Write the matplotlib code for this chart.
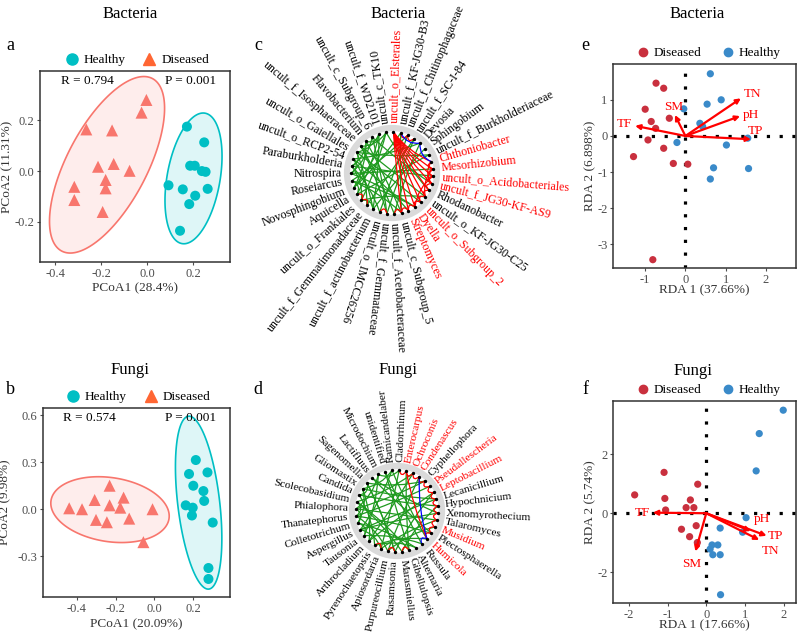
import numpy as np
import matplotlib
matplotlib.use('Agg')
import matplotlib.pyplot as plt
from matplotlib.patches import Polygon, Circle, PathPatch
from matplotlib.path import Path
from matplotlib.lines import Line2D

plt.rcParams['font.family'] = ['Liberation Serif', 'DejaVu Serif']
plt.rcParams['axes.unicode_minus'] = False

W, H = 798, 634

# ---- panel a: bacteria PCoA ----
a_dis_x = [-0.004, -0.025, -0.265, -0.153, -0.214, -0.146, -0.077, -0.181, -0.181, -0.317, -0.317, -0.194]
a_dis_y = [0.280, 0.230, 0.164, 0.160, 0.017, 0.028, 0.001, -0.035, -0.068, -0.062, -0.114, -0.161]
a_hea_x = [0.172, 0.247, 0.186, 0.206, 0.237, 0.253, 0.092, 0.154, 0.262, 0.208, 0.182, 0.142]
a_hea_y = [0.175, 0.113, 0.021, 0.021, 0.000, -0.003, -0.056, -0.072, -0.070, -0.097, -0.130, -0.235]

# ---- panel b: fungi PCoA ----
b_dis_x = [-0.231, -0.308, -0.159, -0.231, -0.176, -0.439, -0.373, -0.010, -0.301, -0.130, -0.245, -0.057]
b_dis_y = [0.150, 0.059, 0.074, 0.025, 0.010, 0.006, 0.000, 0.000, -0.068, -0.060, -0.083, -0.210]
b_hea_x = [0.213, 0.178, 0.273, 0.200, 0.252, 0.256, 0.161, 0.197, 0.193, 0.300, 0.278, 0.278]
b_hea_y = [0.314, 0.225, 0.235, 0.150, 0.116, 0.053, 0.025, 0.010, -0.040, -0.085, -0.375, -0.445]

# ---- panel e: bacteria RDA ----
e_dis_x = [-0.73, -0.54, -1.00, -0.85, -0.40, -0.74, -0.93, -0.54, -1.29, -0.30, 0.06, -0.81]
e_dis_y = [1.46, 1.32, 0.74, 0.40, 0.49, 0.21, -0.11, -0.34, -0.57, -0.76, -0.78, -3.42]
e_hea_x = [0.62, 0.89, 0.54, -0.04, 0.36, 0.43, -0.21, 1.02, 1.55, 0.70, 1.57, 0.62]
e_hea_y = [1.72, 1.00, 0.88, 0.75, 0.35, 0.26, -0.18, -0.25, -0.06, -0.88, -0.90, -1.19]
e_env = ['TN', 'pH', 'TP', 'TF', 'SM']
e_env_x = [1.38, 1.36, 1.63, -1.25, -0.26]
e_env_y = [1.04, 0.55, -0.09, 0.28, 0.58]

# ---- panel f: fungi RDA ----
f_dis_x = [-1.85, -1.09, -0.22, -1.07, -0.41, -0.52, -0.32, -1.05, -0.26, -0.64, -0.43, -0.23]
f_dis_y = [0.62, 1.38, 0.98, 0.50, 0.45, 0.19, 0.19, 0.11, -0.42, -0.54, -0.79, -0.99]
f_hea_x = [1.99, 1.37, 1.29, 1.03, 0.36, 0.94, 0.15, 0.30, 0.10, 0.17, 0.36, 0.37]
f_hea_y = [3.48, 2.69, 1.43, -0.15, -0.50, -0.64, -1.07, -1.07, -1.21, -1.40, -1.40, -2.75]
f_env = ['TF', 'SM', 'pH', 'TP', 'TN']
f_env_x = [-1.38, -0.28, 1.15, 1.56, 1.37]
f_env_y = [0.02, -1.29, -0.60, -0.76, -0.90]

# ---- panel c: bacteria network (clockwise from top) ----
bac_labels = ['uncult_o_Elsterales', 'uncult_f_KF-JG30-B3', 'uncult_f_Chitinophagaceae', 'uncult_f_SC-I-84',
              'Devosia', 'Sphingobium', 'uncult_f_Burkholderiaceae', 'Chthoniobacter', 'Mesorhizobium',
              'uncult_o_Acidobacteriales', 'uncult_f_JG30-KF-AS9', 'Rhodanobacter', 'uncult_o_KF-JG30-C25',
              'uncult_o_Subgroup_2', 'Dyella', 'Streptomyces', 'uncult_c_Subgroup_5', 'uncult_f_Acetobacteraceae',
              'uncult_f_Gemmataceae', 'uncult_o_IMCC26256', 'uncult_f_actinobacterium', 'uncult_f_Gemmatimonadaceae',
              'uncult_o_Frankiales', 'Aquicella', 'Novosphingobium', 'Roseiarcus', 'Nitrospira', 'Paraburkholderia',
              'uncult_o_RCP2-54', 'uncult_o_Gaiellales', 'uncult_f_Isosphaeraceae', 'Flavobacterium',
              'uncult_c_Subgroup_6', 'uncult_f_WD2101', 'uncult_c_TK10']
bac_red = [0, 7, 8, 9, 10, 13, 14, 15]
bac_green = [(34, 22), (33, 20), (32, 18), (31, 16), (30, 12), (29, 6), (28, 4), (27, 9), (26, 14), (25, 2),
             (24, 31), (23, 33), (21, 29), (19, 27), (17, 30), (16, 25), (15, 28), (5, 20), (3, 21), (1, 24),
             (2, 19), (4, 17), (6, 23), (8, 26), (10, 32), (11, 34), (12, 22), (13, 29), (14, 25), (18, 30),
             (20, 28), (22, 27), (24, 34), (26, 32), (29, 33), (30, 34), (31, 27), (1, 16), (3, 18), (26, 28),
             (27, 29), (23, 25), (33, 31), (20, 22)]
bac_redges = [(0, 7), (0, 8), (0, 9), (0, 10), (0, 11), (0, 12), (0, 13), (0, 14), (0, 15), (0, 16),
              (7, 8), (8, 9), (9, 10), (10, 11), (11, 12), (12, 13), (13, 14), (14, 15), (15, 16), (16, 17),
              (7, 10), (8, 12), (9, 14), (18, 19), (21, 22), (22, 23), (1, 2), (2, 3)]
bac_blue = [(1, 4), (4, 7)]

# ---- panel d: fungi network (clockwise from top) ----
fun_labels = ['Cladorrhinum', 'Enterocarpus', 'Ochroconis', 'Condenascus', 'Cyphellophora', 'Pseudallescheria',
              'Leptobacillium', 'Lecanicillium', 'Hypochnicium', 'Xenomyrothecium', 'Talaromyces', 'Musidium',
              'Plectosphaerella', 'Humicola', 'Russula', 'Alternaria', 'Gibellulopsis', 'Marasmiellus',
              'Rasamsonia', 'Purpureocillium', 'Apiosordaria', 'Pyrenochaetopsis', 'Arthrocladium', 'Tausonia',
              'Aspergillus', 'Colletotrichum', 'Thanatephorus', 'Phialophora', 'Scolecobasidium', 'Candida',
              'Gliomastix', 'Sagenomella', 'Lactifluus', 'Microdochium', 'unidentified', 'Ramicandelaber']
fun_red = [1, 2, 3, 5, 6, 11, 13]
fun_green = [(0, 20), (35, 24), (34, 14), (33, 27), (32, 9), (31, 18), (30, 22), (29, 8), (28, 16), (27, 4),
             (26, 12), (25, 30), (24, 7), (23, 33), (22, 2), (21, 29), (20, 10), (19, 26), (18, 31), (17, 28),
             (16, 34), (15, 25), (14, 23), (13, 21), (12, 32), (11, 19), (10, 27), (9, 24), (8, 17), (7, 30),
             (6, 22), (5, 26), (4, 31), (3, 19), (2, 28), (1, 16), (0, 33), (35, 13), (25, 27), (26, 28),
             (23, 25), (29, 31), (20, 24), (30, 35), (15, 21), (6, 18)]
fun_redges = [(1, 2), (2, 3), (3, 4), (4, 5), (5, 6), (6, 7), (7, 8), (8, 9), (9, 10), (10, 11), (11, 12),
              (12, 13), (1, 13), (0, 1), (16, 17), (18, 19), (20, 21)]
fun_blue = [(3, 13), (13, 14)]

C_HEA = '#00BFC4'
C_DIS = '#F8766D'
C_DIS_LEG = '#FF6633'
R_DIS = '#C9303E'
R_HEA = '#3A8AC9'
GRAY = '#4D4D4D'


def px_axes(fig, x0, y0, x1, y1):
    return fig.add_axes([x0 / W, 1 - y1 / H, (x1 - x0) / W, (y1 - y0) / H])


def cov_trob(X, nu=5, maxit=25, tol=0.01):
    # multivariate t estimate of location and scatter (as MASS::cov.trob)
    n, p = X.shape
    loc = X.mean(axis=0)
    w = np.ones(n)
    for _ in range(maxit):
        w0 = w
        Xc = X - loc
        _, d, vt = np.linalg.svd(np.sqrt(w / w.sum())[:, None] * Xc, full_matrices=False)
        wX = Xc @ vt.T / d
        Q = (wX ** 2).sum(axis=1)
        w = (nu + p) / (nu + Q)
        loc = (w[:, None] * X).sum(axis=0) / w.sum()
        if np.all(np.abs(w - w0) < tol):
            break
    Xc = X - loc
    cov = (np.sqrt(w)[:, None] * Xc).T @ (np.sqrt(w)[:, None] * Xc) / n
    return loc, cov


def conf_ellipse(ax, x, y, color):
    X = np.c_[x, y]
    loc, cov = cov_trob(X)
    d2 = len(x) - 1
    fq = d2 / 2.0 * (0.05 ** (-2.0 / d2) - 1)  # F(2, n-1) quantile at 0.95
    r = np.sqrt(2 * fq)
    t = np.linspace(0, 2 * np.pi, 200)
    unit = np.c_[np.cos(t), np.sin(t)]
    chol = np.linalg.cholesky(cov).T
    pts = loc + r * unit @ chol
    ax.add_patch(Polygon(pts, closed=True, fc=color, alpha=0.13, ec='none', zorder=1))
    ax.add_patch(Polygon(pts, closed=True, fill=False, ec=color, lw=1.2, zorder=2))


def style_axes(ax, xl, yl):
    for s in ax.spines.values():
        s.set_color('#333333')
        s.set_linewidth(1.1)
    ax.tick_params(colors=GRAY, labelsize=9, length=2.5, width=0.8, pad=1.5)
    for t in ax.get_xticklabels() + ax.get_yticklabels():
        t.set_color(GRAY)
    ax.xaxis.set_label_coords(0.5, xl)
    ax.yaxis.set_label_coords(yl, 0.5)


def draw_pcoa(ax, dx, dy, hx, hy, xlim, ylim, xticks, yticks, xlabel, ylabel, r_txt, p_txt, xl, yl):
    conf_ellipse(ax, dx, dy, C_DIS)
    conf_ellipse(ax, hx, hy, C_HEA)
    ax.scatter(dx, dy, marker='^', s=75, color=C_DIS, edgecolors='none', zorder=3)
    ax.scatter(hx, hy, marker='o', s=52, color=C_HEA, edgecolors='none', zorder=3)
    ax.set_xlim(*xlim)
    ax.set_ylim(*ylim)
    ax.set_xticks(xticks)
    ax.set_yticks(yticks)
    ax.set_xlabel(xlabel, fontsize=9.5, color='#333333')
    ax.set_ylabel(ylabel, fontsize=9.5, color='#333333')
    ax.text(0.25, 0.948, r_txt, transform=ax.transAxes, ha='center', va='center', fontsize=9.5)
    ax.text(0.79, 0.948, p_txt, transform=ax.transAxes, ha='center', va='center', fontsize=9.5)
    handles = [Line2D([], [], marker='o', ls='', color=C_HEA, ms=8, label='Healthy'),
               Line2D([], [], marker='^', ls='', color=C_DIS_LEG, ms=9, label='Diseased')]
    ax.legend(handles=handles, loc='lower center', bbox_to_anchor=(0.5, 0.99), ncol=2, frameon=False,
              fontsize=9.5, handletextpad=0.1, columnspacing=1.0, borderaxespad=0.1, handlelength=1.6)
    style_axes(ax, xl, yl)


def draw_rda(ax, dx, dy, hx, hy, env, ex, ey, offsets, xlim, ylim, xticks, yticks, xlabel, ylabel, xl, yl):
    ax.axhline(0, color='black', lw=2.3, ls=(0, (1, 3)), dash_capstyle='butt', zorder=1)
    ax.axvline(0, color='black', lw=2.3, ls=(0, (1, 3)), dash_capstyle='butt', zorder=1)
    ax.scatter(dx, dy, s=27, color=R_DIS, edgecolors='none', zorder=2)
    ax.scatter(hx, hy, s=27, color=R_HEA, edgecolors='none', zorder=2)
    for name, x, y in zip(env, ex, ey):
        ax.annotate('', xy=(x, y), xytext=(0, 0),
                    arrowprops=dict(arrowstyle='-|>', color='red', lw=1.6, mutation_scale=7,
                                    shrinkA=0, shrinkB=0), zorder=3)
        ox, oy, ha, va = offsets[name]
        ax.annotate(name, xy=(x, y), xytext=(ox, oy), textcoords='offset points', ha=ha, va=va,
                    color='red', fontsize=9.5, zorder=4)
    ax.set_xlim(*xlim)
    ax.set_ylim(*ylim)
    ax.set_xticks(xticks)
    ax.set_yticks(yticks)
    ax.set_xlabel(xlabel, fontsize=9.5, color='#333333')
    ax.set_ylabel(ylabel, fontsize=9.5, color='#333333')
    handles = [Line2D([], [], marker='o', ls='', color=R_DIS, ms=6, label='Diseased'),
               Line2D([], [], marker='o', ls='', color=R_HEA, ms=6, label='Healthy')]
    ax.legend(handles=handles, loc='lower center', bbox_to_anchor=(0.51, 0.99), ncol=2, frameon=False,
              fontsize=9.5, handletextpad=0.0, columnspacing=1.2, borderaxespad=0.1, handlelength=1.6)
    style_axes(ax, xl, yl)


def draw_network(ax, labels, red_idx, g_edges, r_edges, b_edges, start, lo, hi, fs, rlab):
    n = len(labels)
    ang = np.radians(start - 360.0 * np.arange(n) / n)
    ring = 45
    ax.add_patch(Circle((0, 0), ring, fill=False, ec='#DADADA', lw=4.5, zorder=1))
    rin = 41
    pts = np.c_[rin * np.cos(ang), rin * np.sin(ang)]

    def edge(i, j, color, lw):
        p0, p1 = pts[i], pts[j]
        ctrl = (p0 + p1) / 2 * 0.8
        path = Path([p0, ctrl, p1], [Path.MOVETO, Path.CURVE3, Path.CURVE3])
        ax.add_patch(PathPatch(path, fc='none', ec=color, lw=lw, zorder=2))

    for i, j in g_edges:
        edge(i, j, '#1F9A1F', 0.9)
    for i, j in r_edges:
        edge(i, j, '#FF0000', 0.9)
    for i, j in b_edges:
        edge(i, j, '#0000FF', 0.9)
    ax.scatter(pts[:, 0], pts[:, 1], s=2, color='black', zorder=3)

    for k, lab in enumerate(labels):
        a = np.degrees(ang[k])
        a = (a + 180) % 360 - 180
        x, y = rlab * np.cos(ang[k]), rlab * np.sin(ang[k])
        if lo <= a <= hi:
            rot, ha = a, 'left'
        else:
            rot, ha = a + 180, 'right'
        ax.text(x, y, lab, rotation=rot, rotation_mode='anchor', ha=ha, va='center', fontsize=fs,
                color='red' if k in red_idx else 'black')
    ax.set_xlim(-150, 150)
    ax.set_ylim(-150, 150)
    ax.axis('off')


fig = plt.figure(figsize=(W / 100, H / 100), dpi=100)

ax_a = px_axes(fig, 40, 71, 230, 262)
draw_pcoa(ax_a, a_dis_x, a_dis_y, a_hea_x, a_hea_y, (-0.466, 0.359), (-0.358, 0.394),
          [-0.4, -0.2, 0.0, 0.2], [-0.2, 0.0, 0.2], 'PCoA1 (28.4%)', 'PCoA2 (11.31%)',
          'R = 0.794', 'P = 0.001', -0.105, -0.14)

ax_b = px_axes(fig, 43, 408, 230, 597)
draw_pcoa(ax_b, b_dis_x, b_dis_y, b_hea_x, b_hea_y, (-0.574, 0.389), (-0.56, 0.646),
          [-0.4, -0.2, 0.0, 0.2], [-0.3, 0.0, 0.3, 0.6], 'PCoA1 (20.09%)', 'PCoA2 (9.98%)',
          'R = 0.574', 'P = 0.001', -0.112, -0.17)

e_off = {'TN': (2, 3, 'left', 'center'), 'pH': (2, 1, 'left', 'center'), 'TP': (-2, 6, 'left', 'center'),
         'TF': (-2, 1, 'right', 'center'), 'SM': (-1, 6, 'center', 'center')}
ax_e = px_axes(fig, 613, 64, 796, 268)
draw_rda(ax_e, e_dis_x, e_dis_y, e_hea_x, e_hea_y, e_env, e_env_x, e_env_y, e_off,
         (-1.80, 2.75), (-3.65, 1.99), [-1, 0, 1, 2], [-3, -2, -1, 0, 1], 'RDA 1 (37.66%)', 'RDA 2 (6.898%)',
         -0.082, -0.09)

f_off = {'TF': (-2, 0, 'right', 'center'), 'SM': (-3, -5, 'center', 'top'), 'pH': (8, 4, 'center', 'bottom'),
         'TP': (1, 0, 'left', 'center'), 'TN': (8, -4, 'center', 'top')}
ax_f = px_axes(fig, 613, 401, 796, 603)
draw_rda(ax_f, f_dis_x, f_dis_y, f_hea_x, f_hea_y, f_env, f_env_x, f_env_y, f_off,
         (-2.41, 2.32), (-3.03, 3.79), [-2, -1, 0, 1, 2], [-2, 0, 2], 'RDA 1 (17.66%)', 'RDA 2 (5.74%)',
         -0.08, -0.09)

ax_c = px_axes(fig, 392 - 150, 173 - 150, 392 + 150, 173 + 150)
draw_network(ax_c, bac_labels, bac_red, bac_green, bac_redges, bac_blue, 88, -112, 103, 8.6, 50)

ax_d = px_axes(fig, 397 - 150, 511 - 150, 397 + 150, 511 + 150)
draw_network(ax_d, fun_labels, fun_red, fun_green, fun_redges, fun_blue, 87, -90, 100, 8.2, 49)

# titles and panel letters
for x, y, t in [(130, 14, 'Bacteria'), (398, 14, 'Bacteria'), (697, 14, 'Bacteria'),
                (130, 370, 'Fungi'), (398, 370, 'Fungi'), (693, 371, 'Fungi')]:
    fig.text(x / W, 1 - y / H, t, ha='center', va='center', fontsize=12)
for x, y, t in [(10, 46, 'a'), (258, 46, 'c'), (585, 46, 'e'),
                (10, 390, 'b'), (258, 390, 'd'), (585, 390, 'f')]:
    fig.text(x / W, 1 - y / H, t, ha='center', va='center', fontsize=13)

fig.savefig('out.png', dpi=100)
